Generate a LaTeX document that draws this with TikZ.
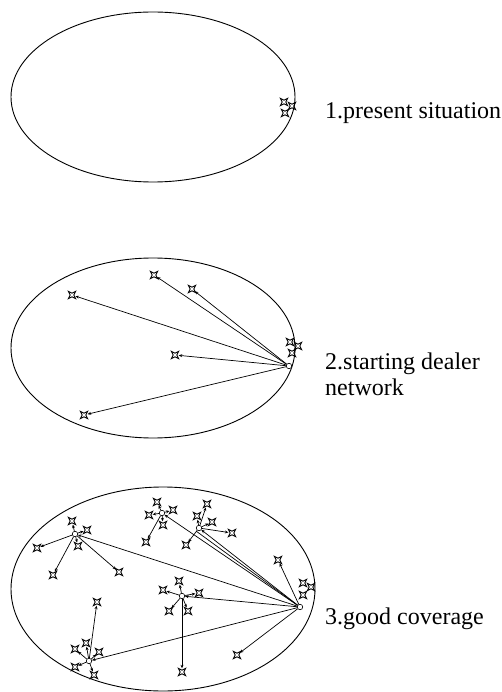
\documentclass[tikz,border=0pt]{standalone}
\usepackage{fontspec}
\setmainfont{Liberation Serif}
\usetikzlibrary{arrows.meta}
\tikzset{
  mk/.style={circle,inner sep=0pt,minimum size=7pt},
  hub/.style={circle,draw,line width=0.6pt,inner sep=0pt,minimum size=5.5pt,fill=white},
  starmark/.pic={\draw[line width=0.9pt] (45:5.2)--(0:1.8)--(-45:5.2)--(-90:1.8)--(-135:5.2)--(180:1.8)--(135:5.2)--(90:1.8)--cycle;},
  rim/.style={line width=0.9pt},
  link/.style={line width=0.7pt,-{Stealth[length=3.5pt,width=3pt]}},
  lbl/.style={font=\fontsize{24}{26}\selectfont,anchor=base west,inner sep=0pt,align=left}
}
\begin{document}
\begin{tikzpicture}[x=1pt,y=-1pt]
\useasboundingbox (0,0) rectangle (502,692);
% ellipses
\draw[rim] (153,97) ellipse [x radius=142,y radius=85];
\draw[rim] (153,348) ellipse [x radius=142,y radius=90];
\draw[rim] (163,589) ellipse [x radius=152,y radius=102];
% labels
\node[lbl] (t1) at (325,119) {1.present situation};
\node[lbl] (t2) at (325,395) {2.starting dealer\\network};
\node[lbl] (t3) at (325,624) {3.good coverage};
% panel 1
\foreach \n/\x/\y in {a1/284/102,a2/292/106,a3/285/113}{\node[mk] (\n) at (\x,\y) {}; \pic at (\n) {starmark};}
% panel 2
\node[hub] (H) at (289,366) {};
\foreach \n/\x/\y in {bA/72/295,bB/154/275,bC/192/289,bD/175/355,bF/84/415,bE1/290/342,bE2/298/346,bE3/292/353}{\node[mk] (\n) at (\x,\y) {}; \pic at (\n) {starmark};}
\foreach \n in {bA,bB,bC,bD,bF}{\draw[link] (H) -- (\n);}
% panel 3
\node[hub] (R) at (300,607) {};
\node[hub] (C1) at (75,534) {};
\node[hub] (C2) at (162,513) {};
\node[hub] (C3) at (199,528) {};
\node[hub] (C4) at (182,596) {};
\node[hub] (C5) at (89,661) {};
\coordinate (C3b) at (196,531);
\foreach \n/\x/\y in {
  r1/303/583,r2/311/587,r3/303/595,rO1/278/560,rO2/237/655,
  k1a/72/521,k1b/87/530,k1c/78/546,k1d/37/548,k1e/53/575,k1f/119/572,
  k2a/157/502,k2b/149/515,k2c/173/510,k2d/163/525,k2e/146/542,
  k3a/197/516,k3b/212/522,k3c/207/504,k3d/232/533,k3e/186/545,
  k4a/179/581,k4b/163/590,k4c/199/593,k4d/169/611,k4e/188/611,k4f/182/672,
  k5a/86/643,k5b/75/649,k5c/99/652,k5d/75/667,k5e/94/675,k5f/97/602}
  {\node[mk] (\n) at (\x,\y) {}; \pic at (\n) {starmark};}
\foreach \n in {rO1,rO2}{\draw[link] (R) -- (\n);}
\foreach \n in {C1,C2,C3,C4,C5}{\draw[link] (R) -- (\n);}
\draw[line width=0.7pt] (R) -- (C3b);
\foreach \h/\n in {C1/k1a,C1/k1b,C1/k1c,C1/k1d,C1/k1e,C1/k1f,
  C2/k2a,C2/k2b,C2/k2c,C2/k2d,C2/k2e,
  C3/k3a,C3/k3b,C3/k3c,C3/k3d,C3/k3e,
  C4/k4a,C4/k4b,C4/k4c,C4/k4d,C4/k4e,C4/k4f,
  C5/k5a,C5/k5b,C5/k5c,C5/k5d,C5/k5e,C5/k5f}{\draw[link] (\h) -- (\n);}
\end{tikzpicture}
\end{document}
